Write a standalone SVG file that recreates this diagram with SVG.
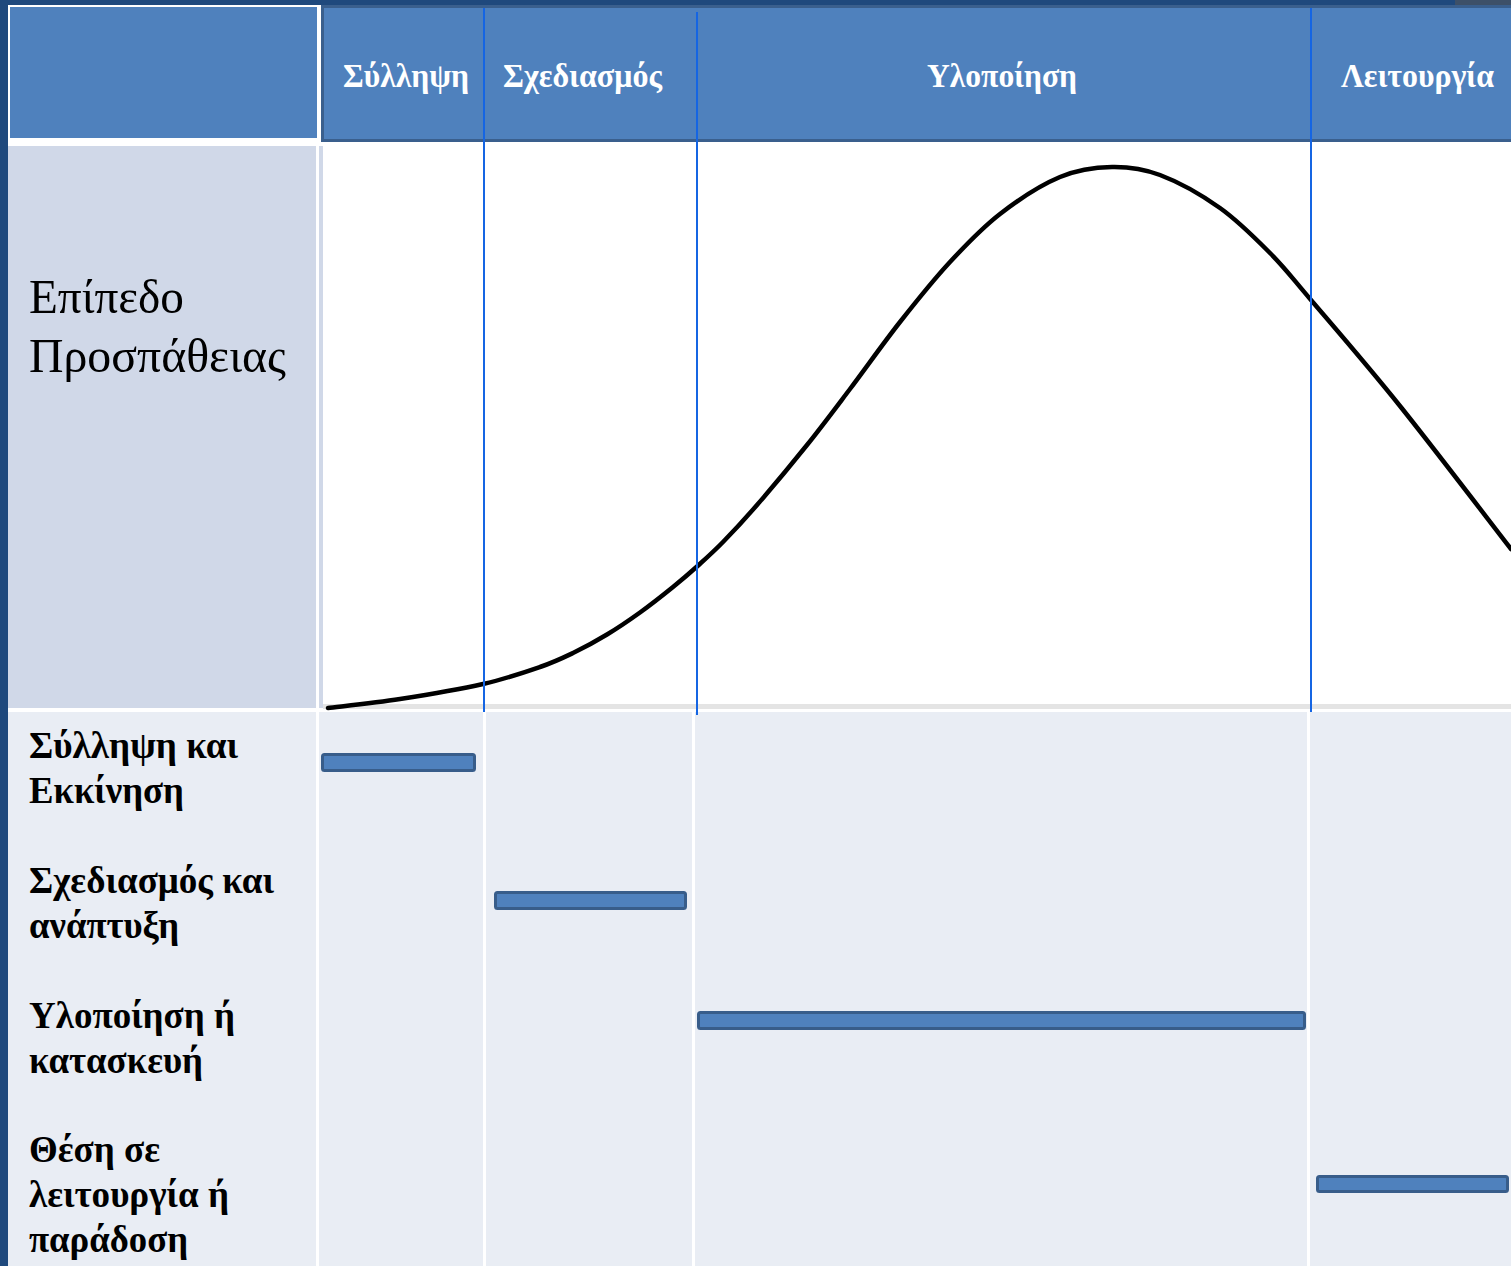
<svg xmlns="http://www.w3.org/2000/svg" width="1511" height="1266" viewBox="0 0 1511 1266">
  <style>
    .hdr { font-family: "Liberation Serif", "Times New Roman", serif; font-weight: bold; font-size: 33px; fill: #ffffff; }
    .lbl { font-family: "Liberation Serif", "Times New Roman", serif; font-weight: bold; font-size: 38px; fill: #000000; }
    .big { font-family: "Liberation Serif", "Times New Roman", serif; font-size: 49px; fill: #000000; }
    .bar { fill: #4F81BD; stroke: #385D8A; stroke-width: 3; }
    .phase { stroke: #1565E3; stroke-width: 2; fill: none; }
    .sep { fill: #ffffff; }
  </style>

  <!-- frame / background -->
  <rect x="0" y="0" width="1511" height="1266" fill="#1F497D"/>
  <rect x="1455" y="0" width="56" height="5" fill="#3D5068"/>
  <rect x="8" y="5" width="1503" height="1261" fill="#ffffff"/>

  <!-- header row -->
  <g id="header-left">
    <rect x="9" y="6" width="309" height="133" fill="#4F81BD" stroke="#ffffff" stroke-width="2"/>
  </g>
  <g id="header-right">
    <rect x="321" y="5" width="1190" height="137" fill="#3A5F8D"/>
    <rect x="324" y="8" width="1187" height="131" fill="#4F81BD"/>
    <text class="hdr" x="343" y="87" textLength="126" lengthAdjust="spacingAndGlyphs">Σύλληψη</text>
    <text class="hdr" x="503" y="87" textLength="159" lengthAdjust="spacingAndGlyphs">Σχεδιασμός</text>
    <text class="hdr" x="927" y="87" textLength="150" lengthAdjust="spacingAndGlyphs">Υλοποίηση</text>
    <text class="hdr" x="1341" y="87" textLength="153" lengthAdjust="spacingAndGlyphs">Λειτουργία</text>
  </g>

  <!-- effort row -->
  <g id="effort-label">
    <rect x="8" y="146" width="308" height="562" fill="#D0D8E8"/>
    <rect x="319" y="146" width="4" height="562" fill="#D0D8E8"/>
    <text class="big" x="29" y="313" textLength="155" lengthAdjust="spacingAndGlyphs">Επίπεδο</text>
    <text class="big" x="29" y="372" textLength="257" lengthAdjust="spacingAndGlyphs">Προσπάθειας</text>
  </g>
  <g id="effort-plot">
    <rect x="323" y="142" width="1188" height="562" fill="#ffffff"/>
    <rect x="323" y="704" width="1188" height="5" fill="#E4E4E4"/>
  </g>

  <!-- activities area -->
  <g id="activity-area">
    <rect x="8" y="712" width="1503" height="554" fill="#E9EDF4"/>
    <rect class="sep" x="316" y="712" width="3" height="554"/>
    <rect class="sep" x="483" y="712" width="3" height="554"/>
    <rect class="sep" x="692" y="712" width="3" height="554"/>
    <rect class="sep" x="1307" y="712" width="3" height="554"/>
  </g>

  <g id="label-conception">
    <text class="lbl" x="29" y="758" textLength="209" lengthAdjust="spacingAndGlyphs">Σύλληψη και</text>
    <text class="lbl" x="29" y="803" textLength="155" lengthAdjust="spacingAndGlyphs">Εκκίνηση</text>
  </g>
  <g id="label-design">
    <text class="lbl" x="29" y="893" textLength="245" lengthAdjust="spacingAndGlyphs">Σχεδιασμός και</text>
    <text class="lbl" x="29" y="938" textLength="150" lengthAdjust="spacingAndGlyphs">ανάπτυξη</text>
  </g>
  <g id="label-implementation">
    <text class="lbl" x="29" y="1028" textLength="206" lengthAdjust="spacingAndGlyphs">Υλοποίηση ή</text>
    <text class="lbl" x="29" y="1073" textLength="174" lengthAdjust="spacingAndGlyphs">κατασκευή</text>
  </g>
  <g id="label-operation">
    <text class="lbl" x="29" y="1162" textLength="131" lengthAdjust="spacingAndGlyphs">Θέση σε</text>
    <text class="lbl" x="29" y="1207" textLength="200" lengthAdjust="spacingAndGlyphs">λειτουργία ή</text>
    <text class="lbl" x="29" y="1252" textLength="159" lengthAdjust="spacingAndGlyphs">παράδοση</text>
  </g>

  <!-- bars -->
  <g id="bar-conception"><rect class="bar" x="322.5" y="754.5" width="152" height="16" rx="2"/></g>
  <g id="bar-design"><rect class="bar" x="495.5" y="892.5" width="190" height="16" rx="2"/></g>
  <g id="bar-implementation"><rect class="bar" x="698.5" y="1012.5" width="606" height="16" rx="2"/></g>
  <g id="bar-operation"><rect class="bar" x="1317.5" y="1176.5" width="190" height="15" rx="2"/></g>

  <!-- effort curve -->
  <g id="effort-curve">
    <path d="M328,708 C340,706.5 374.2,703 400,699 C425.8,695 459.7,689.3 483,684 C506.3,678.7 525,672.2 540,667 C555,661.8 561.8,658.4 573,653 C584.2,647.6 595.8,641.3 607,634.5 C618.2,627.8 629,620.4 640,612.5 C651,604.6 663.5,594.7 673,587 C682.5,579.3 688.7,574 697,566.5 C705.3,559 713,552.3 723,542 C733,531.8 743,521.2 757,505 C771,488.8 791.5,464.3 807,445 C822.5,425.7 834.5,409.5 850,389 C865.5,368.5 883.3,343.2 900,322 C916.7,300.8 933.3,280 950,262 C966.7,244 981.7,228.2 1000,214 C1018.3,199.8 1041.3,184.8 1060,177 C1078.7,169.2 1095.3,167.3 1112,167 C1128.7,166.7 1142,168.2 1160,175 C1178,181.8 1201.7,195 1220,208 C1238.3,221 1254.8,237.7 1270,253 C1285.2,268.3 1289.3,274.5 1311,300 C1332.7,325.5 1366.7,364.5 1400,406 C1433.3,447.5 1492.5,525.2 1511,549" fill="none" stroke="#000000" stroke-width="4.5" stroke-linejoin="round" stroke-linecap="round"/>
  </g>

  <!-- phase divider lines -->
  <g id="connectors">
    <line class="phase" x1="484" y1="8" x2="484" y2="712"/>
    <line class="phase" x1="697" y1="12" x2="697" y2="715"/>
    <line class="phase" x1="1311" y1="8" x2="1311" y2="712"/>
  </g>
</svg>
